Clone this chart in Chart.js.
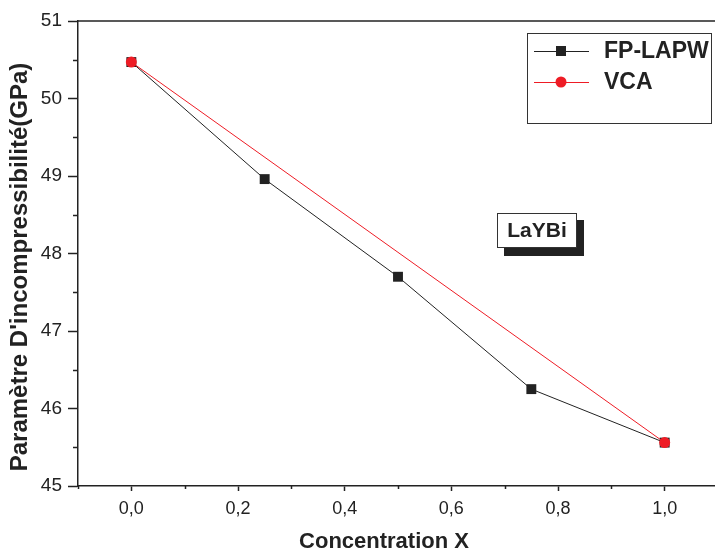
<!DOCTYPE html>
<html>
<head>
<meta charset="utf-8">
<script src="https://cdn.jsdelivr.net/npm/chart.js@4.4.1/dist/chart.umd.min.js"></script>
<style>
  html, body { margin: 0; padding: 0; background: #fff; overflow: hidden; }
  #chart { display: block; }
</style>
</head>
<body>
<canvas id="chart" width="718" height="553"></canvas>
<script>
// Data
const concentrations = [0, 0.25, 0.5, 0.75, 1.0];
const fpLapwValues = [50.47, 48.96, 47.70, 46.25, 45.56];
const vcaConcentrations = [0, 1.0];
const vcaValues = [50.47, 45.56];

const xMajorTicks = [0, 0.2, 0.4, 0.6, 0.8, 1.0];
const xMinorTicks = [-0.1, 0.1, 0.3, 0.5, 0.7, 0.9];
const yMajorTicks = [45, 46, 47, 48, 49, 50, 51];
const yMinorTicks = [45.5, 46.5, 47.5, 48.5, 49.5, 50.5];

const seriesLabels = ['FP-LAPW', 'VCA'];
const sampleLabel = 'LaYBi';
const xTitle = 'Concentration X';
const yTitle = "Paramètre D'incompressibilité(GPa)";

const AXIS = '#222';
const BLACK = '#222';
const RED = '#ee1c25';
const FONT = '"Liberation Sans", Arial, sans-serif';

function toPoints(xs, ys) {
    return xs.map((x, i) => ({ x: x, y: ys[i] }));
}

// Minor ticks, top frame line, axis titles, legend and the LaYBi label
const decorations = {
    id: 'decorations',
    afterDraw(chart) {
        const ctx = chart.ctx;
        const area = chart.chartArea;
        const xs = chart.scales.x;
        const ys = chart.scales.y;
        ctx.save();

        // top frame line
        ctx.strokeStyle = AXIS;
        ctx.lineWidth = 1.5;
        ctx.beginPath();
        ctx.moveTo(area.left, area.top);
        ctx.lineTo(area.right, area.top);
        ctx.stroke();

        // minor ticks
        ctx.beginPath();
        xMinorTicks.forEach(v => {
            const px = Math.round(xs.getPixelForValue(v)) + 0.5;
            ctx.moveTo(px, area.bottom);
            ctx.lineTo(px, area.bottom + 3);
        });
        yMinorTicks.forEach(v => {
            const py = Math.round(ys.getPixelForValue(v)) + 0.5;
            ctx.moveTo(area.left, py);
            ctx.lineTo(area.left - 5, py);
        });
        ctx.stroke();

        // axis titles
        ctx.fillStyle = '#222';
        ctx.textAlign = 'center';
        ctx.textBaseline = 'middle';
        ctx.font = 'bold 22px ' + FONT;
        ctx.fillText(xTitle, 384, 542);

        ctx.save();
        ctx.translate(20, 267);
        ctx.rotate(-Math.PI / 2);
        ctx.font = 'bold 24px ' + FONT;
        ctx.fillText(yTitle, 0, 0);
        ctx.restore();

        // legend box
        ctx.lineWidth = 1;
        ctx.strokeStyle = '#333';
        ctx.strokeRect(527.5, 33.5, 184, 90);
        const rows = [
            { label: seriesLabels[0], color: BLACK, y: 51, marker: 'rect' },
            { label: seriesLabels[1], color: RED, y: 82, marker: 'circle' }
        ];
        rows.forEach(r => {
            ctx.strokeStyle = r.color;
            ctx.lineWidth = 1;
            ctx.beginPath();
            ctx.moveTo(534, r.y + 0.5);
            ctx.lineTo(589, r.y + 0.5);
            ctx.stroke();
            ctx.fillStyle = r.color;
            if (r.marker === 'rect') {
                ctx.fillRect(556, r.y - 5, 10, 10);
            } else {
                ctx.beginPath();
                ctx.arc(561, r.y, 5.5, 0, Math.PI * 2);
                ctx.fill();
            }
            ctx.fillStyle = '#222';
            ctx.font = 'bold 23px ' + FONT;
            ctx.textAlign = 'left';
            ctx.textBaseline = 'middle';
            ctx.fillText(r.label, 604, r.y + 1);
        });

        // LaYBi label with shadow
        ctx.fillStyle = '#222';
        ctx.fillRect(504, 220, 80, 36);
        ctx.fillStyle = '#fff';
        ctx.fillRect(497, 213, 80, 35);
        ctx.strokeStyle = '#333';
        ctx.lineWidth = 1;
        ctx.strokeRect(497.5, 213.5, 79, 34);
        ctx.fillStyle = '#222';
        ctx.font = 'bold 21px ' + FONT;
        ctx.textAlign = 'center';
        ctx.fillText(sampleLabel, 537, 231);

        ctx.restore();
    }
};

const canvas = document.getElementById('chart');
canvas.chart = new Chart(canvas, {
    type: 'scatter',
    data: {
        datasets: [
            {
                label: seriesLabels[0],
                data: toPoints(concentrations, fpLapwValues),
                showLine: true,
                borderColor: BLACK,
                backgroundColor: BLACK,
                borderWidth: 1,
                pointStyle: 'rect',
                pointRadius: 7,
                pointBorderWidth: 0,
                order: 1
            },
            {
                label: seriesLabels[1],
                data: toPoints(vcaConcentrations, vcaValues),
                showLine: true,
                borderColor: RED,
                backgroundColor: RED,
                borderWidth: 1,
                pointStyle: 'circle',
                pointRadius: 5.5,
                pointBorderWidth: 0,
                order: 0
            }
        ]
    },
    options: {
        responsive: false,
        animation: false,
        events: [],
        layout: {
            autoPadding: false,
            padding: { top: 21, right: 0, left: 0, bottom: 0 }
        },
        plugins: {
            legend: { display: false },
            tooltip: { enabled: false }
        },
        scales: {
            x: {
                type: 'linear',
                min: -0.1,
                max: 1.1,
                afterBuildTicks: scale => { scale.ticks = xMajorTicks.map(v => ({ value: v })); },
                afterFit: scale => {
                    scale.height = 67;
                    scale.paddingLeft = 0;
                    scale.paddingRight = 0;
                },
                grid: {
                    drawOnChartArea: false,
                    drawTicks: true,
                    tickLength: 5,
                    tickWidth: 1.5,
                    tickColor: AXIS
                },
                border: { display: true, color: AXIS, width: 1.5 },
                ticks: {
                    padding: 7,
                    color: '#222',
                    font: { family: FONT, size: 18 },
                    maxRotation: 0,
                    callback: v => v.toFixed(1).replace('.', ',')
                }
            },
            y: {
                type: 'linear',
                min: 45,
                max: 51,
                afterBuildTicks: scale => { scale.ticks = yMajorTicks.map(v => ({ value: v })); },
                afterFit: scale => {
                    scale.width = 78;
                    scale.paddingTop = 0;
                    scale.paddingBottom = 0;
                },
                grid: {
                    drawOnChartArea: false,
                    drawTicks: true,
                    tickLength: 10,
                    tickWidth: 1.5,
                    tickColor: AXIS
                },
                border: { display: true, color: AXIS, width: 1.5 },
                ticks: {
                    padding: 6,
                    color: '#222',
                    font: { family: FONT, size: 19 },
                    callback: v => String(v)
                }
            }
        }
    },
    plugins: [decorations]
});
</script>
</body>
</html>
